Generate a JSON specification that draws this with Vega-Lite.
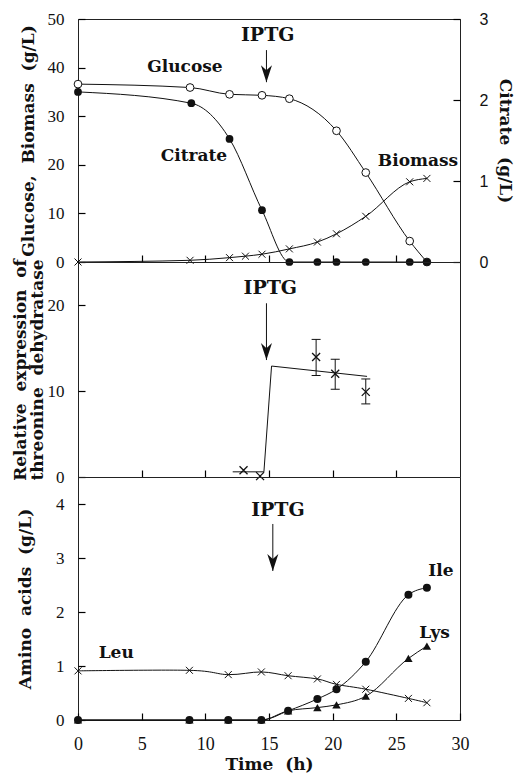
{
  "$schema": "https://vega.github.io/schema/vega-lite/v6.json",
  "padding": {"left": 10, "top": 9, "right": 2, "bottom": 2},
  "background": "white",
  "datasets": {
    "p1": [
      {"s": "Glucose", "t": 0, "v": 36.6},
      {"s": "Glucose", "t": 8.8, "v": 35.9},
      {"s": "Glucose", "t": 11.9, "v": 34.5},
      {"s": "Glucose", "t": 14.45, "v": 34.3},
      {"s": "Glucose", "t": 16.6, "v": 33.6},
      {"s": "Glucose", "t": 20.3, "v": 27.0},
      {"s": "Glucose", "t": 22.6, "v": 18.4},
      {"s": "Glucose", "t": 26.05, "v": 4.3},
      {"s": "Glucose", "t": 27.4, "v": 0},
      {"s": "Biomass", "t": 0, "v": 0},
      {"s": "Biomass", "t": 8.8, "v": 0.35},
      {"s": "Biomass", "t": 11.9, "v": 0.9},
      {"s": "Biomass", "t": 13.15, "v": 1.2},
      {"s": "Biomass", "t": 14.45, "v": 1.6},
      {"s": "Biomass", "t": 16.6, "v": 2.7},
      {"s": "Biomass", "t": 18.8, "v": 4.1},
      {"s": "Biomass", "t": 20.3, "v": 5.8},
      {"s": "Biomass", "t": 22.6, "v": 9.4},
      {"s": "Biomass", "t": 26.05, "v": 16.5},
      {"s": "Biomass", "t": 27.4, "v": 17.2},
      {"s": "Citrate", "t": 0, "v": 2.1},
      {"s": "Citrate", "t": 8.9, "v": 1.96},
      {"s": "Citrate", "t": 11.9, "v": 1.52},
      {"s": "Citrate", "t": 14.45, "v": 0.64},
      {"s": "Citrate", "t": 16.6, "v": 0},
      {"s": "Citrate", "t": 18.8, "v": 0},
      {"s": "Citrate", "t": 20.3, "v": 0},
      {"s": "Citrate", "t": 22.6, "v": 0},
      {"s": "Citrate", "t": 26.05, "v": 0},
      {"s": "Citrate", "t": 27.4, "v": 0}
    ],
    "p1ann": [
      {"kind": "iptg", "t": 14.9, "v": 46.7, "label": "IPTG"},
      {"kind": "label", "t": 8.4, "v": 40.2, "label": "Glucose"},
      {"kind": "label", "t": 9.1, "v": 21.8, "label": "Citrate"},
      {"kind": "label", "t": 26.7, "v": 20.7, "label": "Biomass"},
      {"kind": "shaft", "t": 14.8, "v": 43.6, "v2": 37.0},
      {"kind": "head", "t": 14.8, "v": 37.0}
    ],
    "p2pts": [
      {"t": 13.0, "v": 0.78},
      {"t": 14.3, "v": 0.1},
      {"t": 18.7, "v": 13.95},
      {"t": 20.2, "v": 12.0},
      {"t": 22.6, "v": 9.9}
    ],
    "p2err": [
      {"t": 18.7, "v": 11.8, "v2": 16.0},
      {"t": 20.2, "v": 10.2, "v2": 13.7},
      {"t": 22.6, "v": 8.5, "v2": 11.4}
    ],
    "p2cap": [
      {"t": 18.7, "v": 11.8}, {"t": 18.7, "v": 16.0},
      {"t": 20.2, "v": 10.2}, {"t": 20.2, "v": 13.7},
      {"t": 22.6, "v": 8.5}, {"t": 22.6, "v": 11.4}
    ],
    "p2model": [
      {"t": 12.15, "v": 0.6},
      {"t": 14.6, "v": 0.6},
      {"t": 15.2, "v": 12.9},
      {"t": 22.7, "v": 11.7}
    ],
    "p2ann": [
      {"kind": "iptg", "t": 15.1, "v": 21.97, "label": "IPTG"},
      {"kind": "shaft", "t": 14.8, "v": 20.2, "v2": 13.6},
      {"kind": "head", "t": 14.8, "v": 13.6}
    ],
    "p3": [
      {"s": "Leu", "t": 0, "v": 0.91},
      {"s": "Leu", "t": 8.75, "v": 0.92},
      {"s": "Leu", "t": 11.8, "v": 0.84},
      {"s": "Leu", "t": 14.4, "v": 0.89},
      {"s": "Leu", "t": 16.5, "v": 0.82},
      {"s": "Leu", "t": 18.8, "v": 0.76},
      {"s": "Leu", "t": 20.3, "v": 0.66},
      {"s": "Leu", "t": 22.6, "v": 0.57},
      {"s": "Leu", "t": 25.95, "v": 0.40},
      {"s": "Leu", "t": 27.4, "v": 0.32},
      {"s": "Ile", "t": 0, "v": 0},
      {"s": "Ile", "t": 8.75, "v": 0},
      {"s": "Ile", "t": 11.8, "v": 0},
      {"s": "Ile", "t": 14.4, "v": 0},
      {"s": "Ile", "t": 16.5, "v": 0.17},
      {"s": "Ile", "t": 18.8, "v": 0.39},
      {"s": "Ile", "t": 20.3, "v": 0.57},
      {"s": "Ile", "t": 22.6, "v": 1.08},
      {"s": "Ile", "t": 25.95, "v": 2.32},
      {"s": "Ile", "t": 27.4, "v": 2.45},
      {"s": "Lys", "t": 0, "v": 0},
      {"s": "Lys", "t": 8.75, "v": 0},
      {"s": "Lys", "t": 11.8, "v": 0},
      {"s": "Lys", "t": 14.4, "v": 0},
      {"s": "Lys", "t": 16.5, "v": 0.17},
      {"s": "Lys", "t": 18.8, "v": 0.23},
      {"s": "Lys", "t": 20.3, "v": 0.28},
      {"s": "Lys", "t": 22.6, "v": 0.44},
      {"s": "Lys", "t": 25.95, "v": 1.14},
      {"s": "Lys", "t": 27.4, "v": 1.37}
    ],
    "p3ann": [
      {"kind": "iptg", "t": 15.7, "v": 3.89, "label": "IPTG"},
      {"kind": "label", "t": 3.0, "v": 1.24, "label": "Leu"},
      {"kind": "label", "t": 28.5, "v": 2.76, "label": "Ile"},
      {"kind": "label", "t": 28.0, "v": 1.61, "label": "Lys"},
      {"kind": "shaft", "t": 15.3, "v": 3.63, "v2": 2.76},
      {"kind": "head", "t": 15.3, "v": 2.76}
    ]
  },
  "spacing": 0,
  "bounds": "flush",
  "vconcat": [
    {
      "width": 382,
      "height": 243,
      "encoding": {
        "x": {"field": "t", "type": "quantitative", "scale": {"domain": [0, 30], "nice": false, "zero": false},
              "axis": {"values": [5, 10, 15, 20, 25], "labels": false, "title": null}}
      },
      "layer": [
        {
          "encoding": {
            "y": {"field": "v", "type": "quantitative", "scale": {"domain": [0, 50], "nice": false},
                  "axis": {"values": [0, 10, 20, 30, 40, 50], "title": "Glucose,\u00a0\u00a0Biomass\u00a0\u00a0(g/L)",
                           "titleX": -57, "titleY": 121.5, "titleBaseline": "middle", "titleAngle": 270}}
          },
          "layer": [
            {"data": {"name": "p1"}, "transform": [{"filter": "datum.s === 'Glucose'"}],
             "mark": {"type": "line", "interpolate": "monotone", "color": "#111", "strokeWidth": 1}},
            {"data": {"name": "p1"}, "transform": [{"filter": "datum.s === 'Biomass'"}],
             "mark": {"type": "line", "interpolate": "monotone", "color": "#111", "strokeWidth": 1}},
            {"data": {"name": "p1"}, "transform": [{"filter": "datum.s === 'Glucose'"}],
             "mark": {"type": "point", "shape": "circle", "size": 60, "filled": true, "fill": "white", "stroke": "#111", "strokeWidth": 1, "opacity": 1}},
            {"data": {"name": "p1"}, "transform": [{"filter": "datum.s === 'Biomass'"}],
             "mark": {"type": "point", "shape": "M-1,-1L1,1M-1,1L1,-1", "size": 49, "filled": false, "stroke": "#111", "strokeWidth": 1, "opacity": 1}},
            {"data": {"name": "p1ann"}, "transform": [{"filter": "datum.kind === 'label'"}],
             "mark": {"type": "text", "font": "DejaVu Serif", "fontWeight": "bold", "fontSize": 17, "color": "#111"},
             "encoding": {"text": {"field": "label"}}},
            {"data": {"name": "p1ann"}, "transform": [{"filter": "datum.kind === 'iptg'"}],
             "mark": {"type": "text", "font": "DejaVu Serif", "fontWeight": "bold", "fontSize": 19, "color": "#111"},
             "encoding": {"text": {"field": "label"}}},
            {"data": {"name": "p1ann"}, "transform": [{"filter": "datum.kind === 'shaft'"}],
             "mark": {"type": "rule", "color": "#111", "strokeWidth": 1},
             "encoding": {"y2": {"field": "v2"}}},
            {"data": {"name": "p1ann"}, "transform": [{"filter": "datum.kind === 'head'"}],
             "mark": {"type": "point", "shape": "M0,0L-0.65,-2L0,-1.4L0.65,-2Z", "size": 289, "filled": true, "color": "#111", "opacity": 1}}
          ]
        },
        {
          "encoding": {
            "y": {"field": "v", "type": "quantitative", "scale": {"domain": [0, 3], "nice": false},
                  "axis": {"orient": "right", "values": [0, 1, 2, 3], "title": "Citrate\u00a0\u00a0(g/L)",
                           "titleX": 51, "titleY": 121.5, "titleBaseline": "middle", "titleAngle": 90,
                           "labelFont": "Liberation Sans", "labelFontSize": 16, "labelPadding": 19}}
          },
          "layer": [
            {"data": {"name": "p1"}, "transform": [{"filter": "datum.s === 'Citrate'"}],
             "mark": {"type": "line", "interpolate": "monotone", "color": "#111", "strokeWidth": 1}},
            {"data": {"name": "p1"}, "transform": [{"filter": "datum.s === 'Citrate'"}],
             "mark": {"type": "point", "shape": "circle", "size": 60, "filled": true, "color": "#111", "opacity": 1}}
          ]
        }
      ],
      "resolve": {"scale": {"y": "independent"}, "axis": {"y": "independent"}}
    },
    {
      "width": 382,
      "height": 215,
      "encoding": {
        "x": {"field": "t", "type": "quantitative", "scale": {"domain": [0, 30], "nice": false, "zero": false},
              "axis": {"values": [5, 10, 15, 20, 25], "labels": false, "title": null}},
        "y": {"field": "v", "type": "quantitative", "scale": {"domain": [0, 25], "nice": false},
              "axis": {"values": [0, 10, 20], "title": ["Relative\u00a0\u00a0expression\u00a0\u00a0of", "threonine\u00a0\u00a0dehydratase"],
                       "titleX": -65, "titleY": 107.5, "titleBaseline": "middle", "titleAngle": 270, "titleLineHeight": 17}}
      },
      "layer": [
        {"data": {"name": "p2model"}, "mark": {"type": "line", "color": "#111", "strokeWidth": 1}},
        {"data": {"name": "p2err"}, "mark": {"type": "rule", "color": "#111", "strokeWidth": 1}, "encoding": {"y2": {"field": "v2"}}},
        {"data": {"name": "p2cap"}, "mark": {"type": "tick", "orient": "horizontal", "size": 9, "thickness": 1, "color": "#111", "opacity": 1}},
        {"data": {"name": "p2pts"}, "mark": {"type": "point", "shape": "M-1,-1L1,1M-1,1L1,-1", "size": 64, "filled": false, "stroke": "#111", "strokeWidth": 1.3, "opacity": 1}},
        {"data": {"name": "p2ann"}, "transform": [{"filter": "datum.kind === 'iptg'"}],
         "mark": {"type": "text", "font": "DejaVu Serif", "fontWeight": "bold", "fontSize": 19, "color": "#111"},
         "encoding": {"text": {"field": "label"}}},
        {"data": {"name": "p2ann"}, "transform": [{"filter": "datum.kind === 'shaft'"}],
         "mark": {"type": "rule", "color": "#111", "strokeWidth": 1}, "encoding": {"y2": {"field": "v2"}}},
        {"data": {"name": "p2ann"}, "transform": [{"filter": "datum.kind === 'head'"}],
         "mark": {"type": "point", "shape": "M0,0L-0.65,-2L0,-1.4L0.65,-2Z", "size": 289, "filled": true, "color": "#111", "opacity": 1}}
      ]
    },
    {
      "width": 382,
      "height": 243,
      "encoding": {
        "x": {"field": "t", "type": "quantitative", "scale": {"domain": [0, 30], "nice": false, "zero": false},
              "axis": {"values": [0, 5, 10, 15, 20, 25, 30], "title": "Time\u00a0\u00a0(h)", "titleY": 51, "titleBaseline": "middle",
                       "labelFontSize": 18, "labelPadding": 15}},
        "y": {"field": "v", "type": "quantitative", "scale": {"domain": [0, 4.5], "nice": false},
              "axis": {"values": [0, 1, 2, 3, 4], "title": "Amino\u00a0\u00a0acids\u00a0\u00a0(g/L)",
                       "titleX": -60, "titleY": 121.5, "titleBaseline": "middle", "titleAngle": 270}}
      },
      "layer": [
        {"data": {"name": "p3"}, "transform": [{"filter": "datum.s === 'Leu'"}],
         "mark": {"type": "line", "interpolate": "cardinal", "color": "#111", "strokeWidth": 1}},
        {"data": {"name": "p3"}, "transform": [{"filter": "datum.s === 'Ile'"}],
         "mark": {"type": "line", "interpolate": "monotone", "color": "#111", "strokeWidth": 1}},
        {"data": {"name": "p3"}, "transform": [{"filter": "datum.s === 'Lys'"}],
         "mark": {"type": "line", "interpolate": "monotone", "color": "#111", "strokeWidth": 1}},
        {"data": {"name": "p3"}, "transform": [{"filter": "datum.s === 'Leu'"}],
         "mark": {"type": "point", "shape": "M-1,-1L1,1M-1,1L1,-1", "size": 49, "filled": false, "stroke": "#111", "strokeWidth": 1, "opacity": 1}},
        {"data": {"name": "p3"}, "transform": [{"filter": "datum.s === 'Lys'"}],
         "mark": {"type": "point", "shape": "triangle-up", "size": 70, "filled": true, "color": "#111", "opacity": 1}},
        {"data": {"name": "p3"}, "transform": [{"filter": "datum.s === 'Ile'"}],
         "mark": {"type": "point", "shape": "circle", "size": 64, "filled": true, "color": "#111", "opacity": 1}},
        {"data": {"name": "p3ann"}, "transform": [{"filter": "datum.kind === 'label'"}],
         "mark": {"type": "text", "font": "DejaVu Serif", "fontWeight": "bold", "fontSize": 17, "color": "#111"},
         "encoding": {"text": {"field": "label"}}},
        {"data": {"name": "p3ann"}, "transform": [{"filter": "datum.kind === 'iptg'"}],
         "mark": {"type": "text", "font": "DejaVu Serif", "fontWeight": "bold", "fontSize": 19, "color": "#111"},
         "encoding": {"text": {"field": "label"}}},
        {"data": {"name": "p3ann"}, "transform": [{"filter": "datum.kind === 'shaft'"}],
         "mark": {"type": "rule", "color": "#111", "strokeWidth": 1}, "encoding": {"y2": {"field": "v2"}}},
        {"data": {"name": "p3ann"}, "transform": [{"filter": "datum.kind === 'head'"}],
         "mark": {"type": "point", "shape": "M0,0L-0.65,-2L0,-1.4L0.65,-2Z", "size": 289, "filled": true, "color": "#111", "opacity": 1}}
      ]
    }
  ],
  "config": {
    "view": {"stroke": "#222", "strokeWidth": 1, "fill": null},
    "axis": {
      "domain": false,
      "grid": false,
      "ticks": true,
      "tickSize": 7,
      "offset": -7,
      "tickColor": "#000",
      "tickWidth": 1.2,
      "tickOpacity": 1,
      "zindex": 1,
      "labelFont": "Liberation Serif",
      "labelFontSize": 17,
      "labelColor": "#111",
      "labelPadding": 14,
      "labelFlush": false,
      "labelOverlap": false,
      "titleFont": "DejaVu Serif",
      "titleFontWeight": "bold",
      "titleFontSize": 17,
      "titleColor": "#111"
    },
    "axisLeft": {"titleX": -57, "titleBaseline": "middle"}
  }
}
